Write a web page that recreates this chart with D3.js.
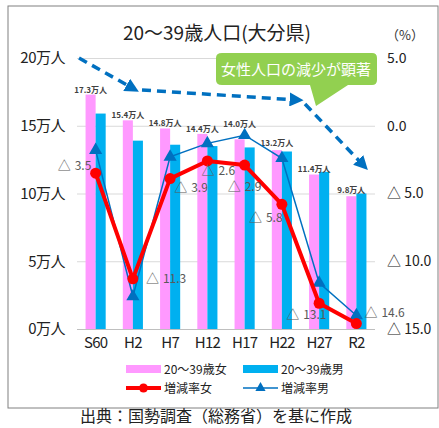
<!DOCTYPE html>
<html>
<head>
<meta charset="utf-8">
<script src="https://cdn.jsdelivr.net/npm/d3@7"></script>
<style>
  body { margin: 0; background: #fff; }
  text { font-family: "Noto Sans CJK JP", "Noto Sans", sans-serif; }
</style>
</head>
<body>
<div id="chart"></div>
<script>
const years = ["S60", "H2", "H7", "H12", "H17", "H22", "H27", "R2"];
const women = [17.3, 15.4, 14.8, 14.4, 14.0, 13.2, 11.4, 9.8];   // 万人
const men = [15.9, 13.9, 13.6, 13.5, 13.4, 13.1, 11.6, 10.0];
const rateWomen = [-3.5, -11.3, -3.9, -2.6, -2.9, -5.8, -13.1, -14.6]; // %
const rateMen = [-1.8, -12.6, -2.3, -1.3, -0.7, -2.4, -11.6, -14.0];
const leftTicks = [0, 5, 10, 15, 20];
const rightTicks = [-15, -10, -5, 0, 5];

const W = 439, H = 428;
const plot = {left: 77, right: 375, top: 58, bottom: 329};

const svg = d3.select("#chart").append("svg")
  .attr("width", W).attr("height", H);

// outer frame
svg.append("rect")
  .attr("x", 8).attr("y", 6).attr("width", 430).attr("height", 402)
  .attr("fill", "#fff").attr("stroke", "#808080");

svg.append("text")
  .attr("x", 217).attr("y", 40).attr("text-anchor", "middle")
  .attr("font-size", 19).attr("fill", "#222")
  .text("20～39歳人口(大分県)");

svg.append("text")
  .attr("x", 405).attr("y", 40).attr("text-anchor", "middle")
  .attr("font-size", 13).attr("fill", "#333")
  .text("（%）");

const x = d3.scaleBand().domain(years)
  .range([plot.left, plot.right]).paddingInner(0.46).paddingOuter(0.23);
const xs = d3.scaleBand().domain(["f", "m"]).range([0, x.bandwidth()]);
const yL = d3.scaleLinear().domain([0, 20]).range([plot.bottom, plot.top]);
const yR = d3.scaleLinear().domain([-15, 5]).range([plot.bottom, plot.top]);

// left axis + grid
svg.append("g")
  .attr("transform", `translate(${plot.left},0)`)
  .call(d3.axisLeft(yL).tickValues(leftTicks).tickSize(0).tickPadding(12).tickFormat(d => d + "万人"))
  .call(g => g.select(".domain").remove())
  .call(g => g.selectAll(".tick text").attr("font-size", 15).attr("fill", "#222")
    .attr("font-family", "'Noto Sans CJK JP', sans-serif").attr("letter-spacing", -0.5))
  .call(g => g.selectAll(".tick line").clone()
    .attr("x2", plot.right - plot.left)
    .attr("stroke", d => d === 0 ? "#bfbfbf" : "#d9d9d9")
    .attr("stroke-width", 1.2));

// right axis
const fmtRate = v => v < 0 ? "△ " + (-v).toFixed(1) : v.toFixed(1);
svg.append("g")
  .attr("transform", `translate(${plot.right},0)`)
  .call(d3.axisRight(yR).tickValues(rightTicks).tickSize(0).tickPadding(12).tickFormat(fmtRate))
  .call(g => g.select(".domain").remove())
  .call(g => g.selectAll(".tick text").attr("font-size", 14).attr("fill", "#222")
    .attr("font-family", "'Noto Sans Mono CJK JP', 'DejaVu Sans Mono', monospace"));

// x axis
svg.append("g")
  .attr("transform", `translate(0,${plot.bottom})`)
  .call(d3.axisBottom(x).tickSize(0).tickPadding(8))
  .call(g => g.select(".domain").remove())
  .call(g => g.selectAll(".tick text").attr("font-size", 15).attr("fill", "#222")
    .attr("font-family", "'Noto Sans CJK JP', sans-serif").attr("letter-spacing", -0.8));

// bars
const barData = years.map((y, i) => ({year: y, f: women[i], m: men[i]}));
const groups = svg.append("g").selectAll("g").data(barData).join("g")
  .attr("transform", d => `translate(${x(d.year)},0)`);
groups.append("rect")
  .attr("x", xs("f")).attr("width", xs.bandwidth())
  .attr("y", d => yL(d.f)).attr("height", d => yL(0) - yL(d.f))
  .attr("fill", "#ff99ff");
groups.append("rect")
  .attr("x", xs("m")).attr("width", xs.bandwidth())
  .attr("y", d => yL(d.m)).attr("height", d => yL(0) - yL(d.m))
  .attr("fill", "#00b0f0");

// bar value labels (women)
const barLabelLift = [2, 2, 2, 2, 12, 4, 3, 3];
groups.append("text")
  .attr("x", xs("f") + xs.bandwidth() / 2)
  .attr("y", (d, i) => yL(d.f) - barLabelLift[i])
  .attr("text-anchor", "middle")
  .attr("font-size", 8).attr("font-weight", "bold").attr("fill", "#404040")
  .text(d => d.f.toFixed(1) + "万人");

const cx = d => x(d) + x.bandwidth() / 2;

// men rate line
const menPts = years.map((y, i) => [cx(y), yR(rateMen[i])]);
svg.append("path")
  .attr("d", d3.line()(menPts))
  .attr("fill", "none").attr("stroke", "#0070c0").attr("stroke-width", 1.5);
svg.append("g").selectAll("path").data(menPts).join("path")
  .attr("transform", d => `translate(${d[0]},${d[1]})`)
  .attr("d", d3.symbol(d3.symbolTriangle, 75))
  .attr("fill", "#0070c0");

// women rate line
const womenPts = years.map((y, i) => [cx(y), yR(rateWomen[i])]);
svg.append("path")
  .attr("d", d3.line()(womenPts))
  .attr("fill", "none").attr("stroke", "#ff0000").attr("stroke-width", 4)
  .attr("stroke-linejoin", "round");
svg.append("g").selectAll("circle").data(womenPts).join("circle")
  .attr("cx", d => d[0]).attr("cy", d => d[1]).attr("r", 5.5)
  .attr("fill", "#ff0000");

// women rate labels
const rateLabelOffset = [[-38, -3], [13, 4], [4, 13], [-6, 14], [-17, 26], [-33, 18], [-33, 16], [8, -7]];
const rl = svg.append("g").selectAll("text").data(womenPts).join("text")
  .attr("x", (d, i) => d[0] + rateLabelOffset[i][0])
  .attr("y", (d, i) => d[1] + rateLabelOffset[i][1])
  .attr("font-size", 12).attr("fill", "#595959");
rl.append("tspan").attr("font-size", 13).text("△");
rl.append("tspan").attr("dx", 4).text((d, i) => (-rateWomen[i]).toFixed(1));

// dashed arrows
svg.append("defs").append("marker")
  .attr("id", "arrow").attr("viewBox", "0 0 10 10")
  .attr("refX", 6).attr("refY", 5)
  .attr("markerWidth", 4).attr("markerHeight", 4)
  .attr("orient", "auto")
  .append("path").attr("d", "M0,0L10,5L0,10z").attr("fill", "#0070c0");
const arrows = [[[79, 58], [134, 89]], [[142, 90], [298, 100]], [[305, 104], [364, 166]]];
svg.append("g").selectAll("path").data(arrows).join("path")
  .attr("d", d => d3.line()(d))
  .attr("stroke", "#0070c0").attr("stroke-width", 3.5)
  .attr("stroke-dasharray", "9,6").attr("fill", "none")
  .attr("marker-end", "url(#arrow)");

// callout bubble
svg.append("path")
  .attr("d", "M222,53 H372 Q377,53 377,58 V80 Q377,85 372,85 H348 L316,106 L310,85 H222 Q216,85 216,80 V58 Q216,53 222,53 Z")
  .attr("fill", "#92d050");
svg.append("text")
  .attr("x", 296).attr("y", 75).attr("text-anchor", "middle")
  .attr("font-size", 15).attr("fill", "#fff")
  .text("女性人口の減少が顕著");

// legend
const legendItems = [
  {label: "20～39歳女", type: "bar", color: "#ff99ff"},
  {label: "20～39歳男", type: "bar", color: "#00b0f0"},
  {label: "増減率女", type: "circle", color: "#ff0000"},
  {label: "増減率男", type: "triangle", color: "#0070c0"}
];
const lg = svg.append("g").selectAll("g").data(legendItems).join("g")
  .attr("transform", (d, i) => `translate(${126 + (i % 2) * 117},${369 + Math.floor(i / 2) * 19})`);
lg.filter(d => d.type === "bar").append("rect")
  .attr("x", 0).attr("y", -4).attr("width", 35).attr("height", 8)
  .attr("fill", d => d.color);
lg.filter(d => d.type !== "bar").append("line")
  .attr("x1", 0).attr("x2", 35)
  .attr("stroke", d => d.color).attr("stroke-width", d => d.type === "circle" ? 4 : 1.5);
lg.filter(d => d.type === "circle").append("circle")
  .attr("cx", 17.5).attr("r", 4.5).attr("fill", d => d.color);
lg.filter(d => d.type === "triangle").append("path")
  .attr("transform", "translate(17.5,0)")
  .attr("d", d3.symbol(d3.symbolTriangle, 45)).attr("fill", d => d.color);
lg.append("text")
  .attr("x", 38).attr("y", 4.5)
  .attr("font-size", 12).attr("fill", "#222")
  .text(d => d.label);

// source
svg.append("text")
  .attr("x", 216).attr("y", 422).attr("text-anchor", "middle")
  .attr("font-size", 16).attr("fill", "#222")
  .text("出典：国勢調査（総務省）を基に作成");
</script>
</body>
</html>
